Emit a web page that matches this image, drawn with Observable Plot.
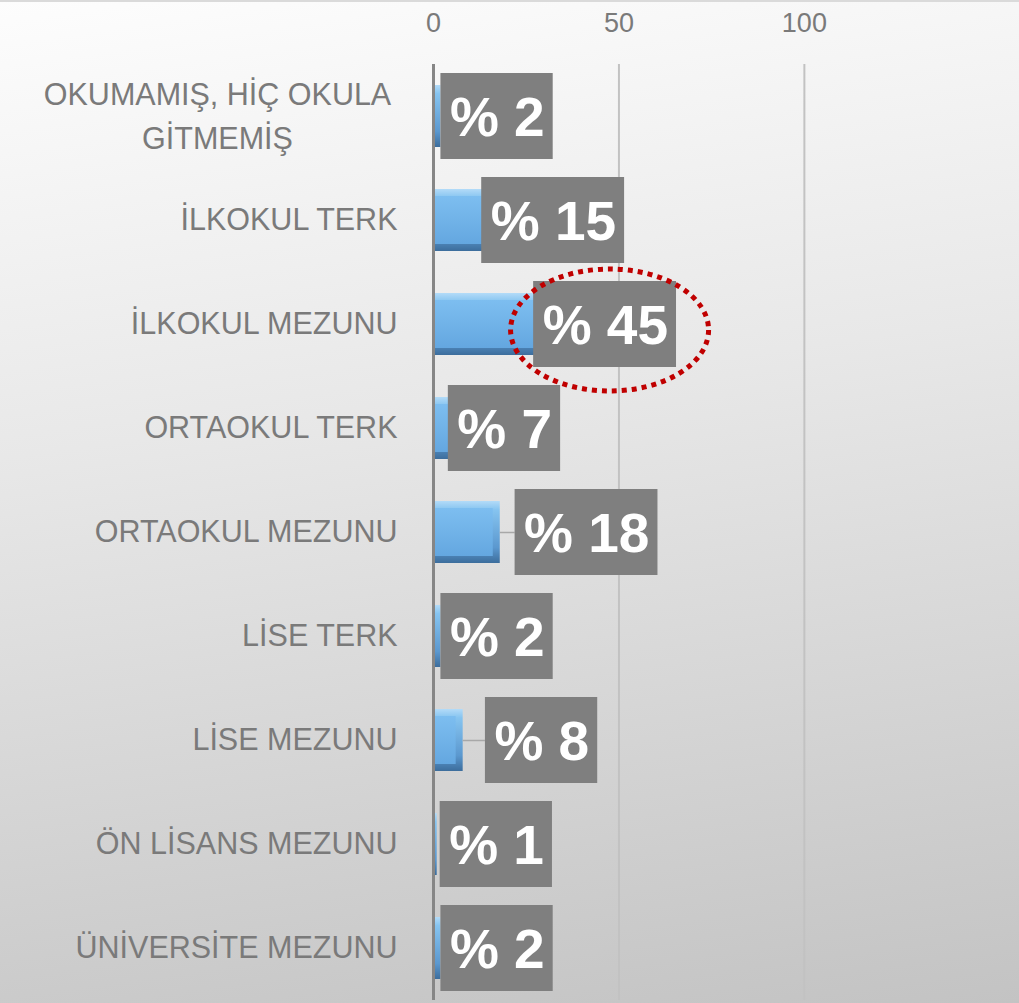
<!DOCTYPE html>
<html><head><meta charset="utf-8">
<script src="https://cdn.jsdelivr.net/npm/d3@7"></script>
<script src="https://cdn.jsdelivr.net/npm/@observablehq/plot@0.6"></script>
<style>
html,body{margin:0;padding:0;}
body{width:1019px;height:1003px;overflow:hidden;background:linear-gradient(172deg,#fdfdfd 0%,#e8e8e8 40%,#c3c3c3 100%);}
#chart{position:relative;width:1019px;height:1003px;}
#topline{position:absolute;left:0;top:0;width:1019px;height:2px;background:#dadada;}
</style></head><body><div id="chart"><div id="topline"></div></div>
<script>
const categories = [
  "OKUMAMIŞ, HİÇ OKULA\nGİTMEMİŞ",
  "İLKOKUL TERK",
  "İLKOKUL MEZUNU",
  "ORTAOKUL TERK",
  "ORTAOKUL MEZUNU",
  "LİSE TERK",
  "LİSE MEZUNU",
  "ÖN LİSANS MEZUNU",
  "ÜNİVERSİTE MEZUNU"
];
const values = [2, 15, 45, 7, 18, 2, 8, 1, 2];
const labelNudge = [0, -2, -18, -3, 4, 0, 6, 0.8, 0];
const xTicks = [0, 50, 100];
const highlight = "İLKOKUL MEZUNU";

const rows = categories.map((c, i) => ({category: c, value: values[i], nudge: labelNudge[i], label: `% ${values[i]}`}));
const FONT = "'Liberation Sans', Arial, sans-serif";
const GREY = "#7a7a7a";

const defsMark = () => {
  const defs = d3.create("svg:defs");
  const g1 = defs.append("linearGradient").attr("id", "bevelOuter").attr("x1", 0).attr("y1", 0).attr("x2", 0).attr("y2", 1);
  [["0%", "#b3dbf8"], ["14%", "#86c4f0"], ["75%", "#5b98cf"], ["100%", "#3c6d9c"]]
    .forEach(([o, c]) => g1.append("stop").attr("offset", o).attr("stop-color", c));
  const g2 = defs.append("linearGradient").attr("id", "bevelFace").attr("x1", 0).attr("y1", 0).attr("x2", 0).attr("y2", 1);
  [["0%", "#7dbef0"], ["100%", "#64a7e0"]]
    .forEach(([o, c]) => g2.append("stop").attr("offset", o).attr("stop-color", c));
  return defs.node();
};

const plot = Plot.plot({
  width: 1019, height: 1003,
  marginLeft: 433, marginRight: 0, marginTop: 64, marginBottom: 3,
  style: {background: "none", fontFamily: FONT, overflow: "visible"},
  x: {domain: [0, 158], axis: null},
  y: {domain: categories, axis: null, padding: 0},
  marks: [
    defsMark,
    Plot.ruleX(xTicks.filter(t => t > 0), {stroke: "#c2c2c2", strokeWidth: 2}),
    Plot.text(xTicks, {x: d => d, text: d => String(d), frameAnchor: "top", dy: -52, fontSize: 27, fill: GREY}),
    Plot.barX(rows, {x: "value", y: "category", insetTop: 21, insetBottom: 21, fill: "url(#bevelOuter)"}),
    Plot.barX(rows, {x: "value", y: "category", insetTop: 28, insetBottom: 28, insetRight: 7, fill: "url(#bevelFace)"}),
    Plot.ruleX([0], {stroke: "#868686", strokeWidth: 3}),
    Plot.ruleY(rows.filter(d => d.nudge > 2), {y: "category", x1: "value", x2: d => d.value + d.nudge, stroke: "#a8a8a8", strokeWidth: 1.5}),
    Plot.text(rows, {x: d => d.value + d.nudge, y: "category", text: "label", textAnchor: "start", dx: 9, dy: 2,
      fontSize: 55, fontWeight: "bold", fill: "white"}),
    Plot.text(rows.filter(d => !d.category.includes("\n")), {y: "category", text: "category", frameAnchor: "left",
      textAnchor: "end", dx: -36, fontSize: 30.5, fill: GREY}),
    Plot.text(rows.filter(d => d.category.includes("\n")), {y: "category", text: "category", frameAnchor: "left",
      textAnchor: "middle", dx: -216, dy: -4, fontSize: 30.5, lineHeight: 1.45, fill: GREY})
  ]
});

document.getElementById("chart").insertBefore(plot, document.getElementById("topline"));

// label boxes (drawn behind the value labels) and highlight ellipse
const NS = "http://www.w3.org/2000/svg";
const svgRect = plot.getBoundingClientRect();
const xs = plot.scale("x"), ys = plot.scale("y");
const step = (ys.range[1] - ys.range[0]) / categories.length;
const bandCenter = c => ys.range[0] + step * (categories.indexOf(c) + 0.5);
const xPix = v => xs.range[0] + (v - xs.domain[0]) / (xs.domain[1] - xs.domain[0]) * (xs.range[1] - xs.range[0]);
const labelSet = new Set(rows.map(d => d.label));
const texts = Array.from(plot.querySelectorAll("text")).filter(t => labelSet.has(t.textContent) && t.closest("g"));
const labelGroup = texts[0].parentNode;
const boxLayer = document.createElementNS(NS, "g");
labelGroup.parentNode.insertBefore(boxLayer, labelGroup);
let ellipseInfo = null;
texts.forEach((t, i) => {
  const d = rows[i];
  const r = t.getBoundingClientRect();
  const left = xPix(d.value + d.nudge);
  const right = r.right - svgRect.left + 8;
  const cy = bandCenter(d.category);
  const rect = document.createElementNS(NS, "rect");
  rect.setAttribute("x", left);
  rect.setAttribute("y", cy - 43);
  rect.setAttribute("width", right - left);
  rect.setAttribute("height", 86);
  rect.setAttribute("fill", "#7f7f7f");
  boxLayer.appendChild(rect);
  if (d.category === highlight) ellipseInfo = {cx: (left + right) / 2 + 5, cy: cy + 6};
});
if (ellipseInfo) {
  const e = document.createElementNS(NS, "ellipse");
  e.setAttribute("cx", ellipseInfo.cx);
  e.setAttribute("cy", ellipseInfo.cy);
  e.setAttribute("rx", 99);
  e.setAttribute("ry", 61);
  e.setAttribute("fill", "none");
  e.setAttribute("stroke", "#c00000");
  e.setAttribute("stroke-width", 5);
  e.setAttribute("stroke-dasharray", "5 5");
  plot.appendChild(e);
}
</script>
</body></html>
